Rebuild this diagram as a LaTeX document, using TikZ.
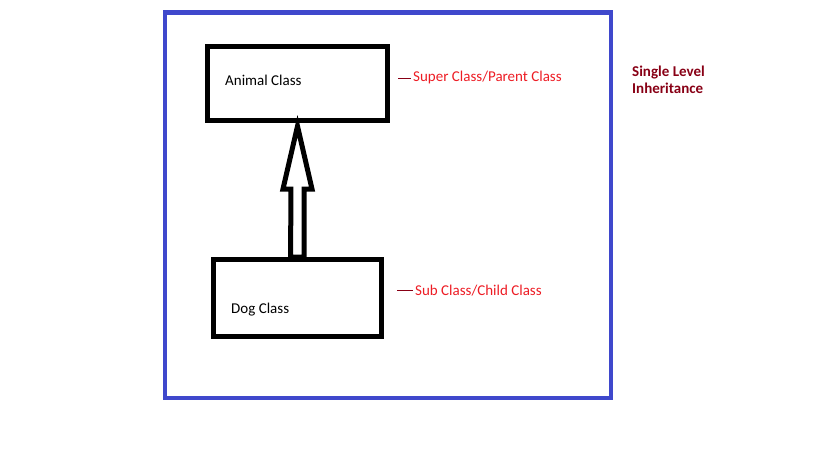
\documentclass[tikz,border=0pt]{standalone}
\usepackage{fontspec}
\setmainfont{Carlito}
\usetikzlibrary{positioning}
\usetikzlibrary{calc}

\definecolor{paintblue}{HTML}{3F48CC}
\definecolor{paintred}{HTML}{ED1C24}
\definecolor{paintdark}{HTML}{880015}

\tikzset{
	classbox/.style={draw=black,line width=5pt,minimum width=180pt,minimum height=74pt,inner sep=0pt},
	classtext/.style={anchor=west,inner sep=0pt,font=\fontsize{15}{17}\selectfont},
	roletext/.style={anchor=west,inner sep=0pt,text=paintred,font=\fontsize{15}{17}\selectfont},
	roledash/.style={draw=paintdark,line width=1pt},
	hollowarrow/.style={draw=black,line width=5pt,fill=white,line join=miter}
}

\begin{document}
\begin{tikzpicture}[x=1pt,y=-1pt]
	\useasboundingbox (0,0) rectangle (819,460);
	\draw[paintblue,line width=4.5pt] (165,12.5) rectangle (611,398);
	
	% the two classes
	\node[classbox] (animal) at (297.5,83.7) {};
	\node[classbox,minimum width=168pt,minimum height=76.6pt] (dog) at (297.3,298) {};
	\node[classtext] (animaltext) at (225,80.5) {Animal Class};
	\node[classtext] (dogtext) at (231,309.5) {Dog Class};
	
	% inheritance arrow, dog up to animal
	\draw[hollowarrow] ($(animal.south)+(0,3)$) -- (283,189) -- (290.8,189)
		-- ($(dog.north)+(-6.6,0)$) -- ($(dog.north)+(6.8,0)$) -- (304.2,189) -- (312,189) -- cycle;
	
	% roles
	\node[roletext] (super) at (413,78) {Super Class/Parent Class};
	\node[roletext] (sub) at (415,290.5) {Sub Class/Child Class};
	\coordinate[left=15pt of super.west] (superdash);
	\coordinate[left=18pt of sub.west] (subdash);
	\draw[roledash] (superdash) -- ($(super.west)+(-2,0)$);
	\draw[roledash] (subdash) -- ($(sub.west)+(-2,0)$);
	
	\node[anchor=north west,inner sep=0pt,align=left,text=paintdark,font=\bfseries\fontsize{15}{17}\selectfont] (title) at (632,65.5) {Single Level\\Inheritance};
\end{tikzpicture}
\end{document}
